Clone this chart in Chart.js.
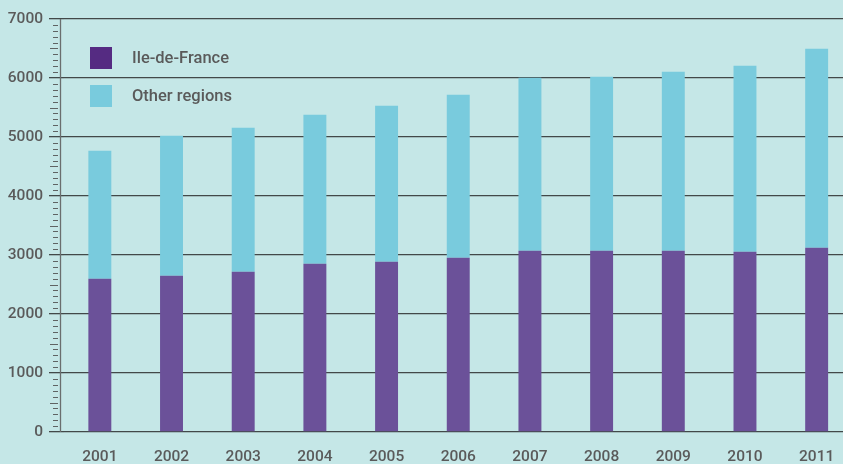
<!DOCTYPE html>
<html>
<head>
<meta charset="utf-8">
<script src="https://cdn.jsdelivr.net/npm/chart.js@4/dist/chart.umd.min.js"></script>
<style>
    html, body { margin: 0; padding: 0; background: #c5e7e7; overflow: hidden; }
    #wrap { width: 860px; height: 464px; }
</style>
</head>
<body>
<div id="wrap"><canvas id="chart" width="860" height="464"></canvas></div>
<script>
// Data
const years = ['2001', '2002', '2003', '2004', '2005', '2006', '2007', '2008', '2009', '2010', '2011'];
const ileDeFrance = [2598, 2650, 2717, 2853, 2886, 2954, 3073, 3073, 3073, 3056, 3124];
const otherRegions = [2170, 2370, 2441, 2525, 2643, 2763, 2932, 2949, 3034, 3152, 3373];
const yTicks = [0, 1000, 2000, 3000, 4000, 5000, 6000, 7000];

const textColor = '#5a5a5a';
const fontFamily = 'Roboto, "Liberation Sans", sans-serif';

// Y axis line + minor ticks (drawn a few px left of the plot area, as in the original)
const axisPlugin = {
    id: 'axisLine',
    afterDraw(chart) {
        const ctx = chart.ctx;
        const y = chart.scales.y;
        const x0 = 60.5;
        ctx.save();
        ctx.strokeStyle = '#6a6e6e';
        ctx.lineWidth = 1.3;
        ctx.beginPath();
        ctx.moveTo(x0, y.getPixelForValue(yTicks[yTicks.length - 1]));
        ctx.lineTo(x0, y.getPixelForValue(0));
        ctx.stroke();

        ctx.strokeStyle = '#5f6363';
        ctx.lineWidth = 1;
        for (let v = 100; v < yTicks[yTicks.length - 1]; v += 100) {
            if (v % 1000 === 0) continue;
            const py = Math.round(y.getPixelForValue(v)) + 0.5;
            ctx.beginPath();
            ctx.moveTo(v % 500 === 0 ? 50 : 53, py);
            ctx.lineTo(58, py);
            ctx.stroke();
        }
        ctx.restore();
    }
};

// Legend drawn inside the plot, top left
const legendPlugin = {
    id: 'innerLegend',
    afterDraw(chart) {
        const ctx = chart.ctx;
        const swatch = ['#552b82', '#79cbdd'];
        const rows = [47, 85];
        ctx.save();
        ctx.font = '500 16.5px ' + fontFamily;
        ctx.textBaseline = 'middle';
        ctx.textAlign = 'left';
        chart.data.datasets.forEach(function(ds, i) {
            ctx.fillStyle = swatch[i];
            ctx.fillRect(90, rows[i], 22, 22);
            ctx.fillStyle = textColor;
            ctx.fillText(ds.label, 132, rows[i] + 12);
        });
        ctx.restore();
    }
};

const ctx = document.getElementById('chart').getContext('2d');
const chart = new Chart(ctx, {
    type: 'bar',
    data: {
        labels: years,
        datasets: [{
            label: 'Ile-de-France',
            data: ileDeFrance,
            backgroundColor: '#6b5199',
            borderWidth: 0,
            barPercentage: 0.32,
            categoryPercentage: 1
        }, {
            label: 'Other regions',
            data: otherRegions,
            backgroundColor: '#79cbdd',
            borderWidth: 0,
            barPercentage: 0.32,
            categoryPercentage: 1
        }]
    },
    options: {
        responsive: false,
        animation: false,
        layout: {
            padding: { left: 0, right: 7.5, top: 19, bottom: 0 }
        },
        plugins: {
            legend: { display: false },
            tooltip: { enabled: false }
        },
        scales: {
            x: {
                stacked: true,
                afterFit: function(scale) { scale.height = 32; },
                grid: { display: false, drawTicks: false },
                border: { display: false },
                ticks: {
                    color: textColor,
                    font: { family: fontFamily, size: 15.5, weight: '500' },
                    padding: 16,
                    maxRotation: 0
                }
            },
            y: {
                stacked: true,
                min: 0,
                max: 7000,
                z: 1,
                afterFit: function(scale) { scale.width = 64; },
                afterBuildTicks: function(scale) {
                    scale.ticks = yTicks.map(function(v) { return { value: v }; });
                },
                border: { display: false },
                grid: {
                    color: 'rgba(36, 38, 38, 0.82)',
                    lineWidth: 1.3,
                    tickLength: 15,
                    tickColor: 'rgba(36, 38, 38, 0.82)'
                },
                ticks: {
                    color: textColor,
                    font: { family: fontFamily, size: 15.5, weight: '500' },
                    padding: 6,
                    callback: function(value) { return String(value); }
                }
            }
        }
    },
    plugins: [axisPlugin, legendPlugin]
});
</script>
</body>
</html>
